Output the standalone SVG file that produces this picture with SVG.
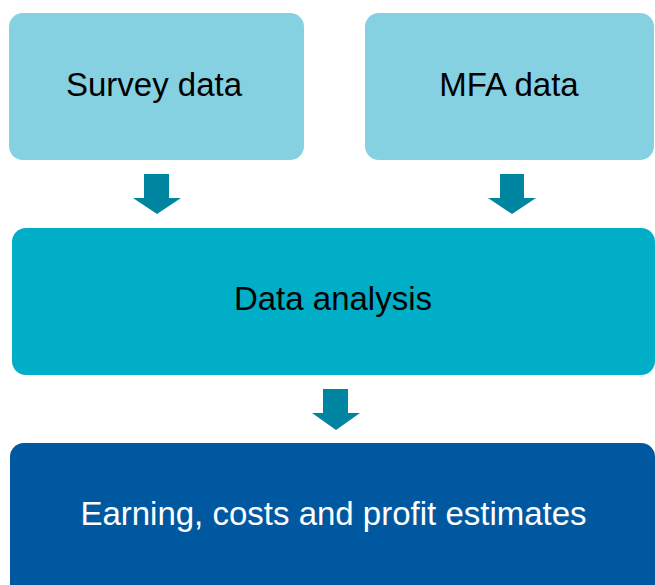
<svg xmlns="http://www.w3.org/2000/svg" width="655" height="585" viewBox="0 0 655 585">
<style>
text{font-family:"Liberation Sans",Arial,sans-serif;font-size:33px;text-anchor:middle}
.light{fill:#85D1E1}
.mid{fill:#00AEC7}
.dark{fill:#0059A0}
.arrow{fill:#0085A1}
</style>
<rect width="655" height="585" fill="#ffffff"/>
<g id="survey">
<rect class="light" x="9" y="13" width="295" height="147" rx="14"/>
<text x="154" y="96" fill="#000">Survey data</text>
</g>
<g id="mfa">
<rect class="light" x="365" y="13" width="289" height="147" rx="14"/>
<text x="509" y="96" fill="#000">MFA data</text>
</g>
<g id="analysis">
<rect class="mid" x="12" y="228" width="643" height="147" rx="14"/>
<text x="333" y="310" fill="#000">Data analysis</text>
</g>
<g id="estimates">
<rect class="dark" x="10" y="443" width="645" height="160" rx="14"/>
<text x="333.5" y="525" fill="#fff">Earning, costs and profit estimates</text>
</g>
<g id="connectors">
<polygon class="arrow" points="144,174 169,174 169,198 181,198 157,214 133,198 144,198"/>
<polygon class="arrow" points="500,174 524,174 524,198 536,198 512,214 488,198 500,198"/>
<polygon class="arrow" points="323,389 348,389 348,413 360,413 336,430 312,413 323,413"/>
</g>
</svg>
